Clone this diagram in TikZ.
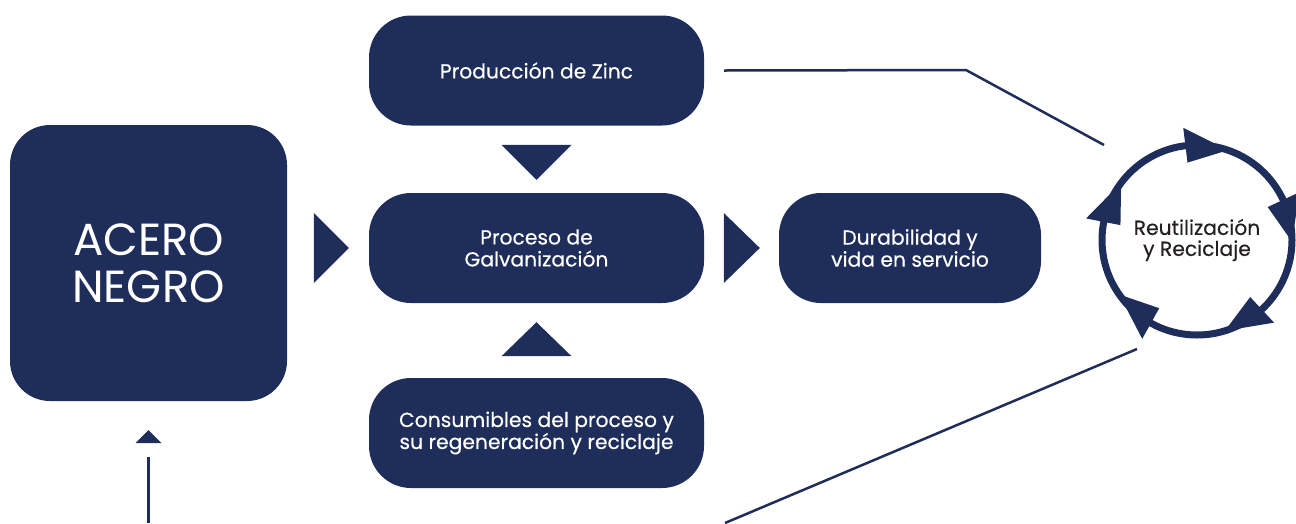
\documentclass[tikz,border=0pt]{standalone}
\usepackage{fontspec}
\setmainfont{Poppins}
\newfontfamily\medio{Poppins}[FakeBold=0.4]
\usetikzlibrary{calc, positioning, arrows.meta}
\definecolor{azul}{RGB}{30,45,89}
\definecolor{gris}{RGB}{35,31,32}

\begin{document}
\begin{tikzpicture}[x=1pt, y=1pt,
    caja/.style={fill=azul, text=white, rounded corners=42pt, minimum width=335pt, minimum height=110pt,
      align=center, inner sep=0pt, font=\medio\fontsize{20.3}{22}\selectfont},
    linea/.style={draw=azul, line width=2.5pt},
    punta/.style={fill=azul}]
  \useasboundingbox (0,0) rectangle (1296,-523);
  % cajas
  \node[caja, minimum width=277pt, minimum height=276pt, rounded corners=40pt,
    font=\fontsize{45}{47}\selectfont] (acero) at (148.5,-263) {ACERO\\NEGRO};
  \node[caja] (zinc) at (536.5,-70.5) {Producción de Zinc};
  \node[caja] (proceso) at (536.5,-248) {Proceso de\\Galvanización};
  \node[caja] (consumo) at (536.5,-433) {Consumibles del proceso y\\su regeneración y reciclaje};
  \node[caja, minimum width=262pt] (durab) at (910,-248) {Durabilidad y\\vida en servicio};
  \node[circle, minimum size=190pt, inner sep=0pt, align=center, text=gris,
    font=\medio\fontsize{20.3}{21}\selectfont] (ciclo) at (1197,-240) {Reutilización\\y Reciclaje};
  % ciclo
  \draw[azul, line width=7pt] (ciclo.center) circle[radius=95];
  \foreach \a in {71,-1,-73,-145,143}
    \fill[punta] ($(ciclo.center)+(\a:95)$) -- ($(ciclo.center)+(\a+26:113)$)
      -- ($(ciclo.center)+(\a+26:78)$) -- cycle;
  % puntas
  \fill[punta] ($(proceso.west)+(-20,0)$) -- ++(-35,35) -- ++(0,-70) -- cycle;
  \fill[punta] ($(durab.west)+(-19,0)$) -- ++(-36,35) -- ++(0,-70) -- cycle;
  \fill[punta] ($(proceso.north)+(0,13)$) -- ++(35,35) -- ++(-70,0) -- cycle;
  \fill[punta] ($(proceso.south)+(0,-19)$) -- ++(35,-34) -- ++(-70,0) -- cycle;
  \fill[punta] ($(acero.south)+(0,-29)$) -- ++(13,-13) -- ++(-26,0) -- cycle;
  % lineas
  \coordinate (quiebre) at (966,-70);
  \coordinate (zincfin) at (1104,-145);
  \coordinate (cicloini) at (1137,-349);
  \coordinate (abajo) at (725,-523);
  \draw[linea] ($(zinc.east)+(20,0)$) -- (quiebre) -- (zincfin);
  \draw[linea] (cicloini) -- (abajo);
  \draw[linea] ($(acero.south)+(0,-56)$) -- ++(0,-66);
\end{tikzpicture}
\end{document}
